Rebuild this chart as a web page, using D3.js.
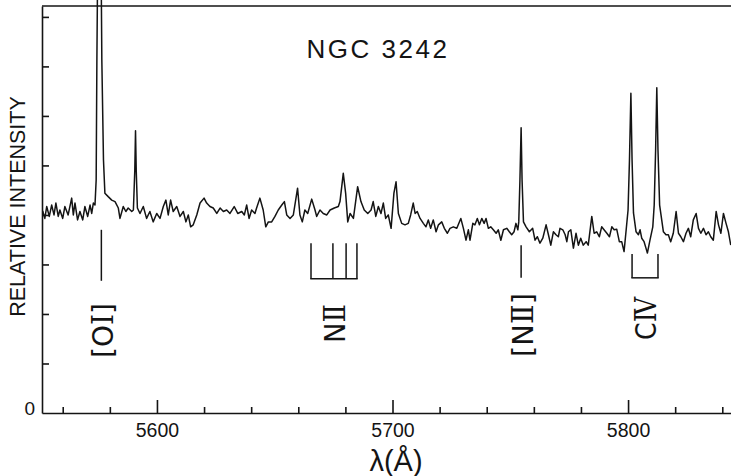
<!DOCTYPE html>
<html>
<head>
<meta charset="utf-8">
<script src="https://cdn.jsdelivr.net/npm/d3@7"></script>
<style>
  body { margin: 0; background: #fff; }
  svg { display: block; }
</style>
</head>
<body>
<div id="chart"></div>
<script>
// spectrum: [wavelength (A), relative intensity]
const spectrum = [
  [5551.5,4.08],[5552.4,3.93],[5553.2,4.17],[5554.3,3.97],[5555.3,4.20],[5556.3,4.00],[5557.1,4.24],[5558.1,3.97],
  [5558.8,4.10],[5560.0,3.93],[5560.9,4.17],[5562.3,4.00],[5563.8,4.34],[5564.5,4.00],[5565.2,4.24],[5566.3,3.90],
  [5567.3,4.07],[5568.5,3.90],[5569.4,4.17],[5570.6,3.97],[5571.6,4.20],[5572.3,4.03],[5573.0,4.24],[5573.7,4.20],
  [5574.2,4.71],[5574.5,7.13],[5575.6,13.39],[5576.6,7.13],[5577.3,5.11],[5577.9,4.44],
  [5579.3,4.37],[5580.8,4.30],[5582.2,4.27],[5583.6,4.14],[5584.3,3.93],[5585.7,4.17],[5586.8,4.07],[5587.8,4.14],
  [5589.3,4.07],[5590.0,4.10],[5590.6,4.91],[5590.9,5.70],[5591.2,4.91],[5591.7,4.14],
  [5592.8,4.03],[5594.2,4.17],[5595.6,3.93],[5597.0,4.07],[5598.4,3.86],[5599.9,4.03],[5601.3,3.93],[5602.7,4.17],
  [5603.8,4.30],[5604.8,4.00],[5605.8,4.30],[5606.9,4.07],[5608.4,4.17],[5609.8,3.97],[5611.2,4.07],[5612.3,3.86],
  [5613.3,4.00],[5614.3,3.76],[5615.4,3.80],[5616.9,4.00],[5618.3,4.24],[5620.0,4.34],[5621.1,4.24],[5622.5,4.17],
  [5623.9,4.14],[5625.4,4.03],[5626.8,4.14],[5628.2,4.07],[5629.6,4.10],[5631.0,4.03],[5632.8,4.17],[5634.3,4.03],
  [5636.0,4.07],[5637.1,4.00],[5638.1,4.20],[5639.1,3.93],[5640.2,4.10],[5641.6,4.03],[5642.3,4.14],[5643.7,4.34],
  [5645.1,4.10],[5646.2,3.76],[5647.3,3.86],[5648.7,3.86],[5650.1,3.97],[5651.5,4.10],[5653.0,4.20],[5654.1,4.27],
  [5655.1,4.00],[5656.5,3.93],[5657.9,4.00],[5659.7,4.54],[5660.7,4.00],[5661.7,3.86],[5662.8,4.10],[5664.0,4.03],
  [5665.7,4.32],[5667.1,4.10],[5667.8,3.97],[5669.2,4.10],[5670.6,4.03],[5672.1,4.00],[5673.5,4.10],[5675.3,4.14],
  [5677.0,4.17],[5677.7,4.27],[5679.1,4.84],[5680.1,4.44],[5681.0,3.86],[5682.0,4.03],[5683.4,3.93],[5685.2,4.57],
  [5686.6,4.27],[5688.0,4.10],[5689.5,4.03],[5690.9,4.10],[5691.8,4.27],[5692.9,3.97],[5694.0,4.17],[5695.1,4.03],
  [5696.1,4.24],[5697.1,3.93],[5698.2,4.00],[5699.4,3.73],[5700.6,4.44],[5701.5,4.67],[5702.5,4.03],[5703.9,3.83],
  [5705.3,3.80],[5706.7,3.83],[5707.7,4.00],[5708.8,4.24],[5709.6,4.03],[5710.5,4.07],[5711.7,3.93],[5713.1,3.83],
  [5714.2,3.76],[5715.2,3.90],[5716.2,3.73],[5717.3,3.90],[5718.5,3.66],[5719.5,3.80],[5720.9,3.86],[5722.0,3.73],
  [5723.3,3.63],[5724.4,3.73],[5725.8,3.76],[5727.3,3.73],[5729.0,3.93],[5730.1,3.73],[5731.2,3.49],[5732.2,3.70],
  [5732.9,3.49],[5734.1,3.83],[5735.0,3.80],[5736.0,3.93],[5736.9,3.80],[5737.9,3.93],[5738.9,3.83],[5739.7,3.93],
  [5740.7,3.73],[5741.7,3.76],[5742.8,3.70],[5744.0,3.63],[5744.9,3.70],[5746.0,3.49],[5747.1,3.70],[5748.5,3.73],
  [5749.6,3.66],[5750.6,3.60],[5751.6,3.66],[5752.4,3.83],[5753.2,3.70],
  [5753.6,3.86],[5754.1,4.71],[5754.6,5.76],[5755.0,4.71],[5755.6,3.86],
  [5756.7,3.76],[5758.1,3.66],[5759.5,3.73],[5760.5,3.49],[5761.5,3.56],[5762.6,3.43],[5763.8,3.53],[5765.2,3.80],
  [5766.2,3.60],[5767.2,3.39],[5768.3,3.66],[5769.4,3.60],[5770.4,3.56],[5771.1,3.73],[5772.3,3.70],[5773.3,3.60],
  [5774.0,3.46],[5774.7,3.66],[5775.7,3.70],[5776.8,3.33],[5777.9,3.63],[5778.9,3.39],[5779.9,3.53],[5781.0,3.39],
  [5782.2,3.46],[5783.1,3.39],[5784.6,3.97],[5785.6,3.63],[5786.7,3.66],[5787.8,3.56],[5788.8,3.76],[5789.8,3.70],
  [5791.0,3.63],[5792.1,3.56],[5793.1,3.76],[5794.1,3.70],[5795.2,3.71],[5796.3,3.46],[5797.3,3.46],[5798.3,3.26],
  [5799.2,3.70],[5800.0,4.10],[5800.6,5.11],[5801.2,6.46],[5801.7,5.11],[5802.3,4.04],
  [5803.4,3.66],[5804.4,3.60],[5805.1,3.70],[5805.8,3.53],[5806.8,3.46],[5807.6,3.33],[5808.2,3.23],[5809.3,3.49],
  [5810.5,3.76],[5811.1,4.20],[5811.7,5.31],[5812.2,6.57],[5812.7,5.31],[5813.4,4.20],
  [5815.0,3.66],[5816.1,3.60],[5817.1,3.60],[5818.1,3.46],[5819.2,3.63],[5820.4,4.07],[5821.4,3.63],[5822.4,3.56],
  [5823.5,3.46],[5824.6,3.63],[5825.6,3.73],[5826.6,3.56],[5827.7,3.90],[5828.9,4.03],[5829.9,3.73],[5830.9,3.63],
  [5832.0,3.73],[5833.1,3.60],[5834.1,3.66],[5835.1,3.56],[5836.2,3.49],[5837.4,4.07],[5838.4,3.80],[5839.4,3.63],
  [5840.5,4.03],[5841.6,3.83],[5842.6,3.66],[5843.6,3.39]
];

// line identifications
const ionElements = ["O", "N", "N", "C"];
const ionStages = ["\u2160", "\u2161", "\u2161", "\u2163"];
const ionForbidden = [true, false, true, false];
const ionLines = [[5576.4], [5665.4, 5674.7, 5680.3, 5684.9], [5754.6], [5801.7, 5812.7]];
const ionTop = [3.70, 3.43, 3.39, 3.21];
const ionBottom = [2.67, 2.71, 2.73, 2.73];

const majorTicks = [5600, 5700, 5800];
const minorTicks = [5560, 5580, 5620, 5640, 5660, 5680, 5720, 5740, 5760, 5780, 5820, 5840];
const yTicks = [1, 2, 3, 4, 5, 6, 7, 8];

const width = 731, height = 476;
const ink = "#141414";
const sans = "Liberation Sans, Arial, sans-serif";

const x = d3.scaleLinear().domain([5551.2, 5843.7]).range([42, 731]);
const y = d3.scaleLinear().domain([0, 8.22]).range([413, 6]);

const svg = d3.select("#chart").append("svg")
    .attr("width", width)
    .attr("height", height)
    .attr("viewBox", "0 0 " + width + " " + height);

// axes
svg.append("g")
    .attr("transform", "translate(0," + y(0) + ")")
    .call(d3.axisBottom(x).tickValues(minorTicks).tickSize(-6).tickSizeOuter(0).tickFormat(""));

const gxMajor = svg.append("g")
    .attr("transform", "translate(0," + y(0) + ")")
    .call(d3.axisBottom(x).tickValues(majorTicks).tickSize(-13).tickPadding(10).tickFormat(d3.format("d")));
gxMajor.select(".domain").remove();

svg.append("g")
    .attr("transform", "translate(" + x.range()[0] + ",0)")
    .call(d3.axisLeft(y).tickValues(yTicks).tickSize(-7).tickSizeOuter(0).tickFormat(""));

svg.selectAll(".domain, .tick line")
    .attr("stroke", ink)
    .attr("stroke-width", 1.6);
svg.selectAll(".tick text")
    .attr("fill", ink)
    .attr("font-family", sans)
    .attr("font-size", 19.5);

// top frame line
svg.append("line")
    .attr("x1", x.range()[0]).attr("x2", x.range()[1])
    .attr("y1", y.range()[1]).attr("y2", y.range()[1])
    .attr("stroke", ink)
    .attr("stroke-width", 1.3);

svg.append("text")
    .attr("x", 35).attr("y", y(0) + 2)
    .attr("text-anchor", "end")
    .attr("font-family", sans)
    .attr("font-size", 19)
    .attr("fill", ink)
    .text("0");

// spectrum
const line = d3.line()
    .x(d => x(d[0]))
    .y(d => y(d[1]));

svg.append("path")
    .datum(spectrum)
    .attr("d", line)
    .attr("fill", "none")
    .attr("stroke", ink)
    .attr("stroke-width", 1.5)
    .attr("stroke-linejoin", "round");

// identification ticks, brackets and labels
const labelY = [330.5, 323.5, 325, 318.5];
const labelLen = [55, 39, 64, 43];

ionLines.forEach((lams, i) => {
    const g = svg.append("g").attr("stroke", ink).attr("stroke-width", 1.5);
    lams.forEach(l => {
        g.append("line")
            .attr("x1", x(l)).attr("x2", x(l))
            .attr("y1", y(ionTop[i])).attr("y2", y(ionBottom[i]));
    });
    if (lams.length > 1) {
        g.append("line")
            .attr("x1", x(lams[0]) - 0.75).attr("x2", x(lams[lams.length - 1]) + 0.75)
            .attr("y1", y(ionBottom[i])).attr("y2", y(ionBottom[i]));
    }
    const xc = (x(lams[0]) + x(lams[lams.length - 1])) / 2 + 1;
    const t = svg.append("text")
        .attr("transform", "translate(" + xc + "," + labelY[i] + ") rotate(-90)")
        .attr("text-anchor", "middle")
        .attr("dy", "0.36em")
        .attr("font-family", "DejaVu Sans, sans-serif")
        .attr("font-size", 29)
        .attr("textLength", labelLen[i])
        .attr("lengthAdjust", "spacingAndGlyphs")
        .attr("fill", ink);
    t.append("tspan").text((ionForbidden[i] ? "[" : "") + ionElements[i]);
    t.append("tspan")
        .attr("font-family", "DejaVu Serif, Liberation Serif, serif")
        .text(ionStages[i]);
    if (ionForbidden[i]) t.append("tspan").text("]");
});

// titles
svg.append("text")
    .attr("x", 378).attr("y", 58)
    .attr("text-anchor", "middle")
    .attr("font-family", sans)
    .attr("font-size", 26)
    .attr("letter-spacing", 2.5)
    .attr("fill", ink)
    .text("NGC 3242");

svg.append("text")
    .attr("x", 396).attr("y", 471)
    .attr("text-anchor", "middle")
    .attr("font-family", sans)
    .attr("font-size", 29)
    .attr("fill", ink)
    .text("\u03bb(\u00c5)");

svg.append("text")
    .attr("transform", "translate(25,206.5) rotate(-90)")
    .attr("text-anchor", "middle")
    .attr("font-family", sans)
    .attr("font-size", 21.5)
    .attr("fill", ink)
    .text("RELATIVE INTENSITY");
</script>
</body>
</html>
